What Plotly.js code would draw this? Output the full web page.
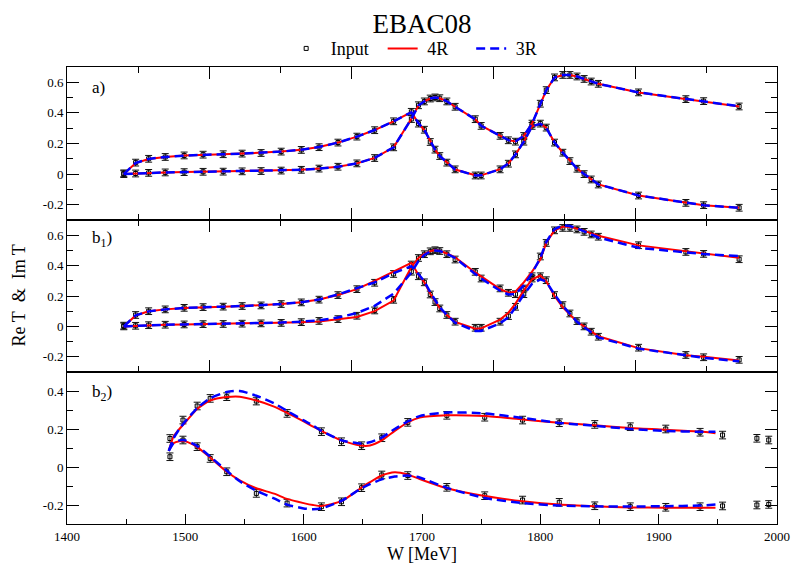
<!DOCTYPE html>
<html>
<head>
<meta charset="utf-8">
<script src="https://cdn.plot.ly/plotly-3.0.1.min.js"></script>
<style>
  html, body { margin: 0; padding: 0; background: #fff; }
  #chart { width: 792px; height: 566px; }
</style>
</head>
<body>
<div id="chart"></div>
<script>
// ---- single-energy input points shared by panels a) and b1) ----
const wAB = [1448, 1458, 1469, 1483, 1499, 1515, 1532, 1548, 1564, 1581, 1598, 1613, 1629, 1645, 1660, 1676,
             1691, 1697, 1702, 1707, 1711, 1715, 1721, 1728, 1745, 1750, 1766, 1773, 1779, 1786, 1793, 1800,
             1805, 1812, 1819, 1825, 1831, 1837, 1843, 1849, 1883, 1923, 1938, 1968];
const reInAB = [0.005, 0.075, 0.100, 0.112, 0.122, 0.127, 0.130, 0.134, 0.138, 0.147, 0.158, 0.176, 0.206, 0.245, 0.287, 0.345,
                0.407, 0.330, 0.290, 0.210, 0.160, 0.118, 0.075, 0.031, -0.009, -0.009, 0.031, 0.068, 0.129, 0.212, 0.315, 0.330,
                0.304, 0.206, 0.140, 0.085, 0.035, 0.000, -0.035, -0.068, -0.140, -0.188, -0.203, -0.220];
const imInAB = [0.000, 0.004, 0.008, 0.011, 0.013, 0.015, 0.016, 0.018, 0.020, 0.023, 0.028, 0.036, 0.048, 0.070, 0.105, 0.175,
                0.360, 0.450, 0.475, 0.494, 0.501, 0.496, 0.475, 0.440, 0.359, 0.315, 0.250, 0.221, 0.212, 0.249, 0.330, 0.460,
                0.549, 0.632, 0.648, 0.648, 0.638, 0.622, 0.605, 0.590, 0.534, 0.490, 0.477, 0.442];
const errAB = 0.022;

// ---- panel a) fits (evaluated on the input energies) ----
const reA4R = [0.000, 0.072, 0.099, 0.112, 0.121, 0.127, 0.130, 0.134, 0.139, 0.147, 0.159, 0.177, 0.206, 0.245, 0.288, 0.345,
               0.405, 0.332, 0.288, 0.212, 0.160, 0.118, 0.076, 0.030, -0.008, -0.008, 0.032, 0.070, 0.128, 0.212, 0.312, 0.330,
               0.303, 0.207, 0.140, 0.086, 0.036, 0.001, -0.034, -0.067, -0.140, -0.188, -0.203, -0.220];
const imA4R = [0.000, 0.004, 0.008, 0.011, 0.013, 0.015, 0.016, 0.018, 0.020, 0.023, 0.028, 0.036, 0.048, 0.070, 0.106, 0.175,
               0.362, 0.448, 0.476, 0.494, 0.500, 0.496, 0.476, 0.440, 0.358, 0.316, 0.250, 0.222, 0.213, 0.250, 0.330, 0.458,
               0.548, 0.631, 0.648, 0.648, 0.638, 0.622, 0.605, 0.590, 0.534, 0.490, 0.477, 0.442];
const reA3R = [0.000, 0.073, 0.099, 0.112, 0.121, 0.127, 0.130, 0.134, 0.139, 0.147, 0.159, 0.177, 0.206, 0.245, 0.288, 0.345,
               0.404, 0.333, 0.289, 0.212, 0.160, 0.118, 0.076, 0.030, -0.009, -0.008, 0.032, 0.070, 0.128, 0.212, 0.312, 0.329,
               0.303, 0.207, 0.140, 0.086, 0.036, 0.001, -0.034, -0.067, -0.140, -0.188, -0.203, -0.221];
const imA3R = [0.000, 0.004, 0.008, 0.011, 0.013, 0.015, 0.016, 0.018, 0.020, 0.023, 0.028, 0.036, 0.048, 0.070, 0.106, 0.175,
               0.361, 0.448, 0.476, 0.494, 0.500, 0.496, 0.476, 0.440, 0.358, 0.316, 0.250, 0.222, 0.213, 0.250, 0.330, 0.458,
               0.548, 0.631, 0.648, 0.648, 0.638, 0.622, 0.605, 0.590, 0.534, 0.490, 0.477, 0.443];

// ---- panel b1) fits ----
const reB14R = [0.000, 0.072, 0.099, 0.112, 0.121, 0.127, 0.130, 0.134, 0.139, 0.147, 0.159, 0.177, 0.206, 0.245, 0.300, 0.360,
                0.418, 0.340, 0.290, 0.215, 0.165, 0.120, 0.075, 0.030, -0.015, -0.013, 0.045, 0.090, 0.150, 0.235, 0.310, 0.335,
                0.297, 0.200, 0.125, 0.075, 0.030, 0.000, -0.030, -0.065, -0.143, -0.190, -0.200, -0.224];
const imB14R = [0.000, 0.004, 0.008, 0.011, 0.013, 0.015, 0.016, 0.018, 0.020, 0.023, 0.027, 0.033, 0.046, 0.062, 0.100, 0.170,
                0.390, 0.450, 0.477, 0.495, 0.502, 0.498, 0.480, 0.455, 0.355, 0.330, 0.245, 0.222, 0.228, 0.290, 0.360, 0.440,
                0.550, 0.632, 0.655, 0.655, 0.645, 0.630, 0.612, 0.596, 0.533, 0.495, 0.478, 0.451];
const reB13R = [0.000, 0.073, 0.099, 0.112, 0.121, 0.127, 0.130, 0.134, 0.139, 0.147, 0.159, 0.177, 0.210, 0.250, 0.290, 0.350,
                0.396, 0.345, 0.295, 0.225, 0.170, 0.125, 0.075, 0.025, -0.030, -0.030, 0.020, 0.060, 0.125, 0.210, 0.280, 0.310,
                0.295, 0.210, 0.135, 0.080, 0.030, -0.005, -0.040, -0.072, -0.146, -0.193, -0.207, -0.230];
const imB13R = [0.000, 0.004, 0.008, 0.011, 0.013, 0.015, 0.017, 0.019, 0.021, 0.025, 0.031, 0.040, 0.058, 0.088, 0.135, 0.215,
                0.355, 0.430, 0.470, 0.493, 0.500, 0.496, 0.478, 0.450, 0.345, 0.315, 0.235, 0.210, 0.213, 0.270, 0.350, 0.450,
                0.555, 0.640, 0.665, 0.660, 0.645, 0.625, 0.605, 0.585, 0.517, 0.484, 0.476, 0.462];

// ---- panel b2) input points ----
const wB2 = [1487, 1498, 1510, 1521, 1535, 1560, 1586, 1615, 1632, 1649, 1666, 1688, 1721, 1753, 1785, 1816,
             1846, 1876, 1906, 1935, 1954, 1983, 1993];
const reInB2 = [0.054, 0.142, 0.107, 0.045, -0.025, -0.139, -0.190, -0.209, -0.183, -0.109, -0.042, -0.045, -0.107, -0.151, -0.174, -0.186,
                -0.204, -0.209, -0.212, -0.209, -0.205, -0.200, -0.197];
const imInB2 = [0.150, 0.247, 0.321, 0.361, 0.370, 0.347, 0.282, 0.186, 0.133, 0.112, 0.154, 0.235, 0.272, 0.262, 0.247, 0.233,
                0.224, 0.212, 0.200, 0.183, 0.168, 0.151, 0.142];
const errB2 = 0.02;

// ---- panel b2) fits ----
const wFitB2 = [1486, 1490, 1495, 1500, 1510, 1521, 1535, 1546, 1560, 1575, 1586, 1600, 1608, 1615, 1632, 1648,
                1656, 1666, 1677, 1688, 1698, 1721, 1753, 1785, 1816, 1846, 1876, 1906, 1935, 1948];
const reB24R = [0.085, 0.125, 0.135, 0.135, 0.105, 0.050, -0.025, -0.070, -0.112, -0.140, -0.168, -0.190, -0.200, -0.205, -0.180, -0.112,
                -0.080, -0.045, -0.028, -0.040, -0.063, -0.112, -0.153, -0.180, -0.198, -0.207, -0.213, -0.214, -0.214, -0.214];
const imB24R = [0.085, 0.160, 0.200, 0.235, 0.305, 0.350, 0.368, 0.370, 0.350, 0.318, 0.285, 0.240, 0.212, 0.190, 0.140, 0.113,
                0.113, 0.140, 0.190, 0.235, 0.260, 0.272, 0.268, 0.250, 0.233, 0.220, 0.205, 0.196, 0.187, 0.178];
const reB23R = [0.085, 0.125, 0.140, 0.140, 0.110, 0.055, -0.020, -0.075, -0.125, -0.165, -0.198, -0.218, -0.222, -0.218, -0.178, -0.115,
                -0.090, -0.065, -0.050, -0.045, -0.055, -0.110, -0.163, -0.190, -0.203, -0.207, -0.208, -0.206, -0.203, -0.198];
const imB23R = [0.085, 0.150, 0.200, 0.240, 0.310, 0.362, 0.395, 0.400, 0.375, 0.335, 0.295, 0.245, 0.218, 0.190, 0.140, 0.124,
                0.130, 0.155, 0.200, 0.240, 0.268, 0.287, 0.282, 0.258, 0.232, 0.217, 0.200, 0.190, 0.185, 0.185];

// y tick labels use a plain hyphen for negatives
const tickValsAB = [-0.2, 0, 0.2, 0.4, 0.6];
const tickTextAB = ['-0.2', '0', '0.2', '0.4', '0.6'];
const tickValsB2 = [-0.2, 0, 0.2, 0.4];
const tickTextB2 = ['-0.2', '0', '0.2', '0.4'];

const RED = '#ff0000', BLUE = '#0000ff';
const FONT = "'Liberation Serif', 'Times New Roman', Times, serif";
const NB = '\u00a0';
// legend entries get a little breathing room around their text
const pad = (s, tail) => NB + s + NB.repeat(tail);
const legendName = { 'Input': pad('Input', 2), '4R': pad('4R', 4), '3R': pad('3R', 2) };

function inputTrace(x, y, err, xa, ya, showLegend) {
  return {
    x: x, y: y, xaxis: xa, yaxis: ya, type: 'scatter', mode: 'markers',
    name: legendName['Input'], legendgroup: 'in', showlegend: showLegend,
    marker: { symbol: 'square-open', size: 4, color: '#000', line: { width: 1, color: '#000' } },
    error_y: { type: 'constant', value: err, color: '#111', thickness: 1, width: 3.5 },
    hoverinfo: 'x+y'
  };
}
function fitTrace(x, y, xa, ya, name, showLegend, smooth) {
  const is4R = name === '4R';
  const line = is4R ? { color: RED, width: 2 } : { color: BLUE, width: 2.5, dash: '9px,5px' };
  if (smooth) { line.shape = 'spline'; line.smoothing = 0.6; }
  return {
    x: x, y: y, xaxis: xa, yaxis: ya, type: 'scatter', mode: 'lines',
    name: legendName[name], legendgroup: name, showlegend: showLegend, line: line
  };
}

const traces = [
  // panel a)
  inputTrace(wAB, reInAB, errAB, 'x3', 'y3', true),
  inputTrace(wAB, imInAB, errAB, 'x3', 'y3', false),
  fitTrace(wAB, reA4R, 'x3', 'y3', '4R', true),
  fitTrace(wAB, imA4R, 'x3', 'y3', '4R', false),
  fitTrace(wAB, reA3R, 'x3', 'y3', '3R', true),
  fitTrace(wAB, imA3R, 'x3', 'y3', '3R', false),
  // panel b1)
  inputTrace(wAB, reInAB, errAB, 'x2', 'y2', false),
  inputTrace(wAB, imInAB, errAB, 'x2', 'y2', false),
  fitTrace(wAB, reB14R, 'x2', 'y2', '4R', false),
  fitTrace(wAB, imB14R, 'x2', 'y2', '4R', false),
  fitTrace(wAB, reB13R, 'x2', 'y2', '3R', false),
  fitTrace(wAB, imB13R, 'x2', 'y2', '3R', false),
  // panel b2)
  inputTrace(wB2, reInB2, errB2, 'x', 'y', false),
  inputTrace(wB2, imInB2, errB2, 'x', 'y', false),
  fitTrace(wFitB2, reB24R, 'x', 'y', '4R', false, true),
  fitTrace(wFitB2, imB24R, 'x', 'y', '4R', false, true),
  fitTrace(wFitB2, reB23R, 'x', 'y', '3R', false, true),
  fitTrace(wFitB2, imB23R, 'x', 'y', '3R', false, true)
];

const frame = { showline: true, linecolor: '#000', linewidth: 1, showgrid: false, zeroline: false,
                tickcolor: '#000', tickwidth: 1, ticks: 'inside' };
const upperX = Object.assign({}, frame, {
  range: [1400, 2000], tickmode: 'linear', tick0: 1400, dtick: 120, ticklen: 12, mirror: 'ticks',
  showticklabels: false,
  minor: { tickmode: 'linear', tick0: 1400, dtick: 60, ticklen: 6, ticks: 'inside', tickcolor: '#000', tickwidth: 1 }
});
function yAxis(domain, range, vals, text) {
  return Object.assign({}, frame, {
    domain: domain, range: range, tickmode: 'array', tickvals: vals, ticktext: text,
    ticklen: 12, mirror: 'ticks', tickfont: { family: FONT, size: 13, color: '#000' },
    minor: { tickmode: 'linear', tick0: 0, dtick: 0.1, ticklen: 6, ticks: 'inside', tickcolor: '#000', tickwidth: 1 }
  });
}

const layout = {
  width: 792, height: 566,
  margin: { l: 67, r: 15, t: 67, b: 42 },
  paper_bgcolor: '#fff', plot_bgcolor: '#fff',
  font: { family: FONT, color: '#000' },
  title: { text: 'EBAC08', font: { family: FONT, size: 27, color: '#000' },
           xref: 'paper', x: 0.5, xanchor: 'center', yref: 'container', y: 0.958, yanchor: 'middle' },
  showlegend: true,
  legend: { orientation: 'h', x: 0.4953, xanchor: 'center', xref: 'paper', y: 1.04, yanchor: 'middle',
            font: { family: FONT, size: 18, color: '#000' }, traceorder: 'normal', bgcolor: 'rgba(0,0,0,0)' },
  xaxis: Object.assign({}, frame, {
    anchor: 'y', domain: [0, 1], range: [1400, 2000], tickmode: 'linear', tick0: 1400, dtick: 100,
    ticklen: 10, mirror: true, tickfont: { family: FONT, size: 13, color: '#000' },
    minor: { tickmode: 'linear', tick0: 1400, dtick: 50, ticklen: 5, ticks: 'inside', tickcolor: '#000', tickwidth: 1 },
    title: { text: 'W [MeV]', font: { family: FONT, size: 18, color: '#000' }, standoff: 4 }
  }),
  xaxis2: Object.assign({}, upperX, { anchor: 'y2', domain: [0, 1] }),
  xaxis3: Object.assign({}, upperX, { anchor: 'y3', domain: [0, 1] }),
  yaxis: Object.assign(yAxis([0, 0.3326], [-0.3, 0.5], tickValsB2, tickTextB2), { anchor: 'x' }),
  yaxis2: Object.assign(yAxis([0.3326, 0.6652], [-0.3, 0.7], tickValsAB, tickTextAB), { anchor: 'x2' }),
  yaxis3: Object.assign(yAxis([0.6652, 1], [-0.3, 0.7], tickValsAB, tickTextAB), { anchor: 'x3' }),
  annotations: [
    { text: 'Re T\u00a0 &\u00a0 Im T', textangle: -90, xref: 'paper', yref: 'paper', x: -0.069, y: 0.5,
      xanchor: 'center', yanchor: 'middle', showarrow: false, font: { family: FONT, size: 18, color: '#000' } },
    { text: 'a)', xref: 'x3 domain', yref: 'y3 domain', x: 0.032, y: 0.865, xanchor: 'left', yanchor: 'middle',
      showarrow: false, font: { family: FONT, size: 17, color: '#000' } },
    { text: 'b<sub>1</sub>)', xref: 'x2 domain', yref: 'y2 domain', x: 0.032, y: 0.875, xanchor: 'left', yanchor: 'middle',
      showarrow: false, font: { family: FONT, size: 17, color: '#000' } },
    { text: 'b<sub>2</sub>)', xref: 'x domain', yref: 'y domain', x: 0.032, y: 0.865, xanchor: 'left', yanchor: 'middle',
      showarrow: false, font: { family: FONT, size: 17, color: '#000' } }
  ]
};

Plotly.newPlot('chart', traces, layout, { displayModeBar: false, staticPlot: true });
</script>
</body>
</html>
